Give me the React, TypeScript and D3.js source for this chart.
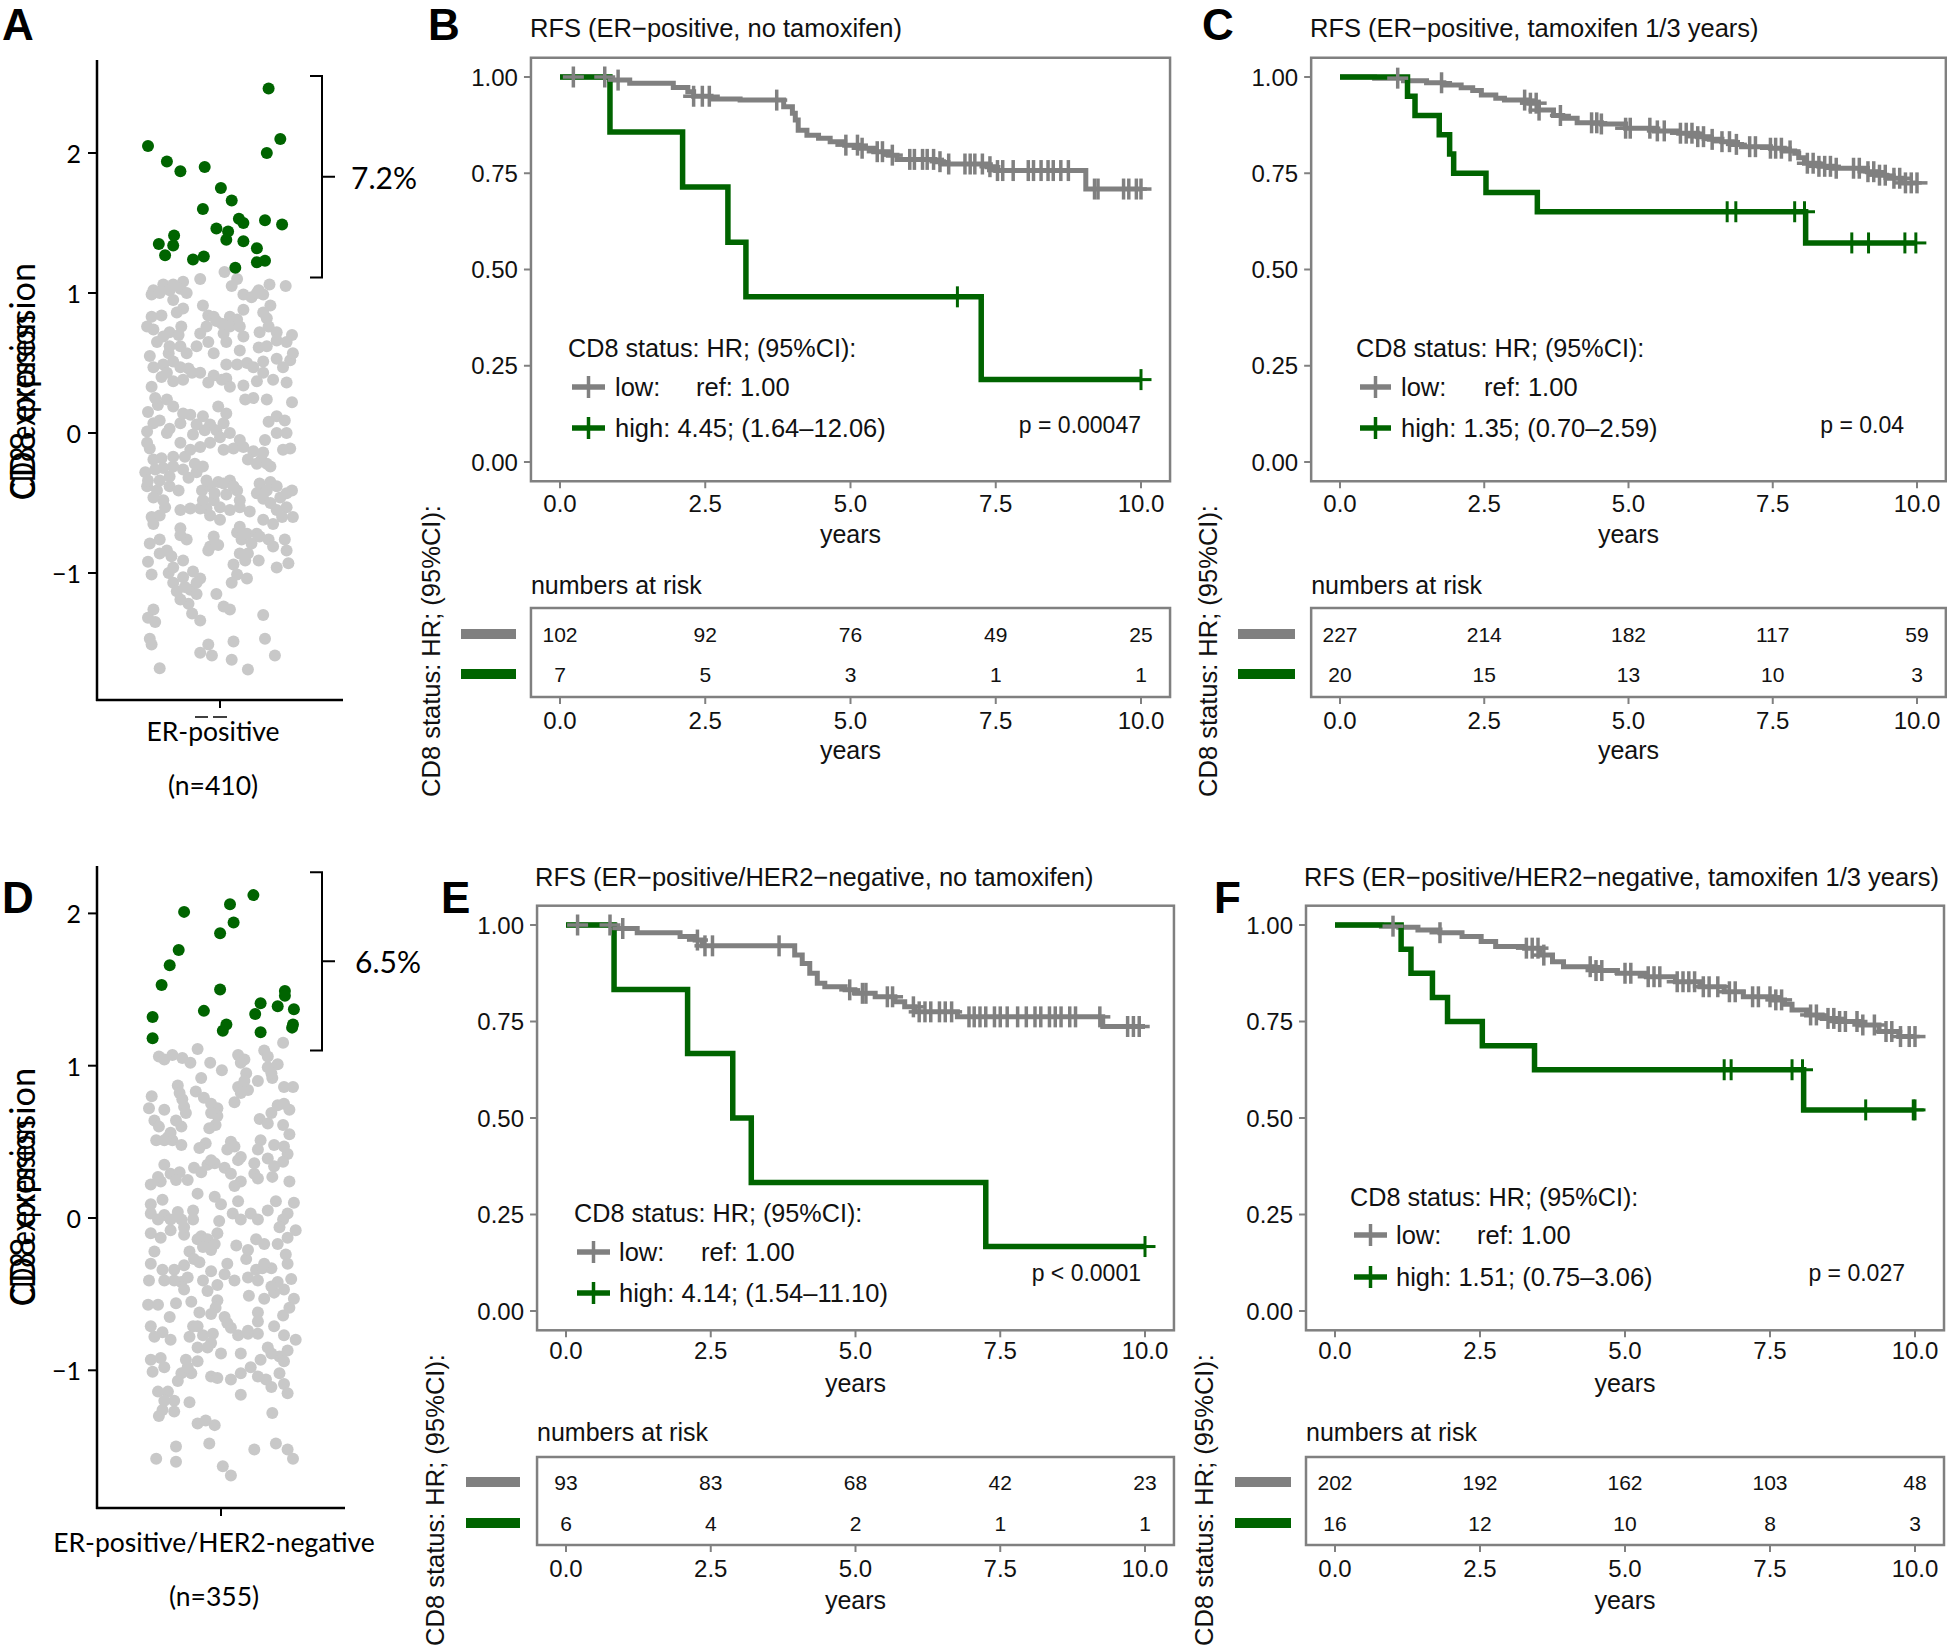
import React from "react";
import * as d3 from "d3";

type P = [number, number];

const GREEN = "#006400";
const GREY = "#808080";
const DOT_GREY = "#c8c8c8";
const FRAME = "#808080";
const SANS = "'Liberation Sans', Arial, Helvetica, sans-serif";
const HUM = "Lato, 'Open Sans', sans-serif";

// ---------------- Panel A / D : CD8 expression dots  [jitter, value] ----------------
const aHighDots: P[] = [
  [0.54, 2.46], [0.67, 2.1], [0.52, 2.0], [-0.8, 2.05], [-0.59, 1.94], [-0.44, 1.87], [-0.17, 1.9],
  [0.01, 1.75], [0.13, 1.66], [-0.19, 1.6], [0.21, 1.53], [0.26, 1.5], [0.5, 1.52], [0.69, 1.49],
  [-0.04, 1.46], [0.09, 1.44], [0.07, 1.38], [0.26, 1.37], [0.41, 1.32], [-0.51, 1.41], [-0.52, 1.34],
  [-0.68, 1.35], [-0.61, 1.27], [-0.3, 1.24], [-0.18, 1.26], [0.41, 1.22], [0.5, 1.23], [0.17, 1.18],
];
const aLowDots: P[] = [
  [0.05, 1.15], [0.19, 1.1], [-0.22, 1.1], [-0.41, 1.08], [-0.52, 1.06], [-0.63, 1.06], [-0.74, 1.02], [-0.76, 0.99],
  [0.13, 1.05], [0.43, 1.02], [0.55, 1.06], [0.73, 1.05], [0.26, 0.99], [0.35, 0.97], [0.48, 0.99], [-0.56, 1.02], [-0.44, 1.03],
  [-0.52, 0.95], [-0.41, 0.89], [-0.19, 0.91], [0.56, 0.91], [0.26, 0.88], [-0.13, 0.84], [-0.07, 0.83], [0.11, 0.83],
  [0.19, 0.81], [0.52, 0.82], [-0.76, 0.83], [-0.65, 0.84], [-0.81, 0.76], [0.02, 0.78], [-0.04, 0.8], [0.54, 0.76],
  [-0.74, 0.74], [-0.56, 0.72], [-0.43, 0.76], [-0.46, 0.7], [-0.63, 0.69], [-0.7, 0.65], [-0.22, 0.71], [-0.13, 0.65],
  [0.04, 0.71], [0.07, 0.65], [0.26, 0.69], [0.44, 0.72], [0.63, 0.72], [0.8, 0.7], [0.74, 0.65], [0.63, 0.66],
  [-0.78, 0.55], [-0.57, 0.57], [-0.44, 0.62], [-0.37, 0.57], [-0.52, 0.51], [-0.35, 0.46], [-0.63, 0.49], [-0.31, 0.43],
  [-0.22, 0.43], [0.07, 0.49], [0.19, 0.49], [0.3, 0.5], [0.43, 0.61], [0.48, 0.51], [0.63, 0.53], [0.78, 0.52], [0.81, 0.57],
  [-0.07, 0.41], [0.02, 0.38], [0.07, 0.39], [-0.65, 0.4], [-0.52, 0.37], [-0.76, 0.33], [-0.13, 0.36], [0.26, 0.34],
  [0.41, 0.37], [0.59, 0.38], [0.74, 0.36],
  [-0.67, 1.0], [-0.37, 1.0], [-0.48, 0.86], [0.41, 1.0], [-0.15, 0.76], [0.11, 0.76], [0.22, 0.76], [0.48, 0.86],
  [-0.56, 0.62], [-0.26, 0.62], [-0.07, 0.57], [0.22, 0.59], [0.52, 0.62], [0.7, 0.47], [-0.44, 0.47], [0.37, 0.47],
  [-0.74, 0.47], [-0.59, 0.43], [-0.41, 0.38], [0.48, 0.43], [0.11, 0.33],
  [0.37, 0.25], [0.52, 0.24], [0.8, 0.22], [-0.8, 0.15], [-0.69, 0.2], [-0.59, 0.24], [-0.67, 0.09], [-0.56, 0.03],
  [-0.44, 0.07], [-0.81, 0.01], [-0.33, 0.13], [-0.19, 0.12], [-0.11, 0.06], [-0.02, 0.19], [-0.04, 0.02], [0.07, 0.14],
  [0.11, 0.0], [0.28, 0.24], [0.54, 0.08], [0.63, 0.12], [0.72, 0.09], [0.74, 0.0], [0.63, 0.0], [0.5, -0.05],
  [0.78, -0.11], [0.7, -0.12], [0.26, -0.1], [0.37, -0.13], [0.46, -0.19], [0.56, -0.24], [0.41, -0.22], [0.15, -0.11],
  [0.04, -0.12], [-0.11, -0.07], [-0.22, -0.1], [-0.3, -0.01], [-0.44, -0.07], [-0.52, -0.17], [-0.39, -0.17], [-0.65, -0.18],
  [-0.78, -0.11], [-0.83, -0.28], [-0.74, -0.19], [-0.63, -0.25], [-0.41, -0.26], [-0.26, -0.28], [-0.35, -0.32],
  [-0.81, -0.38], [-0.7, -0.41], [-0.56, -0.38], [-0.46, -0.41], [-0.63, -0.48], [-0.61, -0.53], [-0.2, -0.41],
  [-0.11, -0.38], [-0.02, -0.35], [0.11, -0.34], [0.19, -0.41], [0.07, -0.44], [-0.07, -0.48], [-0.15, -0.54],
  [-0.22, -0.54], [-0.33, -0.54], [-0.44, -0.55], [0.44, -0.36], [0.56, -0.35], [0.41, -0.43], [0.48, -0.47],
  [0.63, -0.38], [0.8, -0.41], [0.74, -0.53], [0.63, -0.55], [0.81, -0.6], [0.59, -0.65], [0.48, -0.62], [0.33, -0.56],
  [0.22, -0.53], [0.11, -0.55], [0.0, -0.62], [-0.11, -0.59], [-0.76, -0.6], [-0.67, -0.59], [-0.74, -0.65],
  [-0.44, -0.68], [-0.37, -0.76], [-0.44, -0.73], [-0.07, -0.74], [-0.11, -0.81], [-0.13, -0.84], [-0.02, -0.8],
  [0.19, -0.71], [0.24, -0.76], [0.3, -0.72], [0.41, -0.72], [0.54, -0.76], [0.72, -0.76], [0.74, -0.84],
  [-0.78, -0.79], [-0.67, -0.76], [-0.59, -0.84], [-0.54, -0.88], [-0.41, -0.91], [-0.8, -0.92], [-0.76, -1.01],
  [-0.57, -1.0], [-0.52, -1.07], [-0.41, -1.03], [-0.3, -0.99], [-0.22, -1.04], [-0.33, -1.12], [-0.26, -1.15],
  [-0.48, -1.13], [0.22, -0.86], [0.31, -0.86], [0.43, -0.91], [0.15, -0.94], [0.19, -1.01], [0.3, -1.04],
  [0.13, -1.07], [0.63, -0.96], [0.76, -0.93], [-0.04, -1.15], [0.04, -1.24], [0.11, -1.26], [-0.35, -1.22],
  [-0.31, -1.29], [-0.22, -1.34], [-0.74, -1.26], [-0.8, -1.32], [-0.72, -1.35], [0.48, -1.3], [-0.78, -1.47],
  [-0.76, -1.51], [-0.22, -1.57], [-0.13, -1.51], [-0.09, -1.59], [0.15, -1.49], [0.13, -1.62], [0.31, -1.69],
  [0.5, -1.47], [0.61, -1.59], [-0.67, -1.68],
  [-0.72, 0.25], [-0.52, 0.19], [-0.41, 0.14], [-0.74, 0.07], [-0.59, 0.0], [-0.26, 0.06], [-0.17, 0.02], [0.04, 0.07],
  [0.0, -0.03], [-0.15, -0.34], [0.04, -0.36], [0.15, -0.38], [-0.06, -0.43], [-0.19, -0.48], [0.0, -0.53], [0.22, -0.48],
  [0.52, -0.41], [0.67, -0.46], [0.56, -0.5], [0.74, -0.43], [0.69, -0.6], [-0.81, -0.07], [-0.72, -0.26], [-0.8, -0.34],
  [-0.67, -0.34], [-0.74, -0.46], [-0.56, -0.31], [-0.33, -0.12], [-0.28, -0.22], [-0.52, -0.24], [-0.19, -0.24],
  [0.22, -0.05], [0.31, -0.19], [0.48, -0.14], [0.52, -0.22], [0.22, -0.67], [0.35, -0.79], [0.44, -0.74], [0.59, -0.81],
  [0.28, -0.91], [-0.52, -0.96], [-0.67, -0.86], [-0.26, -1.07], [-0.39, -1.1], [-0.44, -1.19],
];
const dHighDots: P[] = [
  [0.36, 2.12], [0.1, 2.06], [0.14, 1.94], [-0.01, 1.87], [-0.41, 2.01], [-0.47, 1.76], [-0.57, 1.66], [-0.66, 1.53],
  [-0.76, 1.32], [-0.76, 1.18], [-0.01, 1.5], [-0.19, 1.36], [0.06, 1.27], [0.02, 1.23], [0.44, 1.41], [0.38, 1.34],
  [0.44, 1.22], [0.63, 1.39], [0.71, 1.49], [0.71, 1.46], [0.81, 1.37], [0.8, 1.27], [0.79, 1.25],
];
const dLowDots: P[] = [
  [-0.26, 1.11], [-0.69, 1.06], [-0.54, 1.07], [-0.43, 1.05], [-0.34, 1.02], [-0.12, 1.02], [0.01, 0.97], [0.19, 1.07],
  [0.26, 1.04], [0.48, 1.1], [0.52, 1.06], [0.69, 1.15], [0.28, 0.95], [0.41, 0.9], [0.52, 0.99], [0.63, 1.01],
  [0.57, 0.92], [-0.22, 0.92], [-0.48, 0.87], [-0.46, 0.82], [-0.43, 0.78], [-0.28, 0.83], [-0.19, 0.79], [-0.11, 0.75],
  [-0.04, 0.72], [-0.04, 0.67], [-0.06, 0.61], [-0.13, 0.59], [-0.41, 0.73], [-0.39, 0.69], [-0.77, 0.8], [-0.8, 0.72],
  [-0.63, 0.71], [-0.74, 0.64], [-0.5, 0.64], [-0.69, 0.6], [0.19, 0.86], [0.3, 0.84], [0.26, 0.9], [0.15, 0.76],
  [0.43, 0.65], [0.52, 0.62], [0.56, 0.69], [0.63, 0.74], [0.7, 0.75], [0.76, 0.71], [0.7, 0.86], [0.8, 0.86],
  [0.69, 0.61], [0.76, 0.55], [0.59, 0.48], [0.44, 0.51], [0.41, 0.45], [0.52, 0.39], [0.74, 0.42], [0.69, 0.37],
  [0.11, 0.5], [0.15, 0.47], [0.22, 0.4], [0.04, 0.33], [-0.07, 0.36], [-0.15, 0.35], [-0.3, 0.33], [-0.22, 0.3],
  [-0.17, 0.49], [-0.24, 0.46], [-0.59, 0.53], [-0.54, 0.51], [-0.72, 0.51], [-0.44, 0.48], [-0.63, 0.35], [-0.56, 0.29],
  [-0.46, 0.3], [-0.37, 0.25], [-0.78, 0.22], [-0.67, 0.24], [0.11, 0.29], [0.22, 0.24], [0.37, 0.29], [0.41, 0.26],
  [0.57, 0.27], [0.76, 0.24], [0.37, 0.36], [0.15, 0.21],
  [-0.63, 1.04], [0.22, 1.02], [0.56, 0.95], [-0.11, 0.69], [0.22, 0.82], [-0.44, 0.6], [-0.56, 0.56], [-0.63, 0.51],
  [0.07, 0.45], [0.19, 0.38], [-0.11, 0.38], [0.59, 0.34], [0.7, 0.47], [-0.5, 0.25], [-0.7, 0.27],
  [-0.78, 0.09], [-0.65, 0.12], [-0.78, 0.03], [-0.63, 0.02], [-0.48, 0.04], [-0.44, -0.01], [-0.31, 0.05], [-0.26, 0.16],
  [-0.31, -0.01], [-0.07, 0.14], [0.0, 0.09], [-0.02, -0.02], [0.13, 0.03], [0.19, 0.11], [0.33, 0.03], [0.41, -0.01],
  [0.52, 0.05], [0.61, 0.11], [0.81, 0.1], [0.69, -0.01], [0.65, -0.06], [0.74, -0.13], [0.83, -0.08], [-0.78, -0.1],
  [-0.67, -0.13], [-0.56, -0.08], [-0.41, -0.11], [-0.22, -0.12], [-0.15, -0.14], [-0.11, -0.21], [-0.04, -0.1],
  [0.17, -0.18], [0.28, -0.27], [0.39, -0.14], [0.48, -0.17], [-0.74, -0.22], [-0.78, -0.3], [-0.8, -0.41], [-0.65, -0.34],
  [-0.52, -0.34], [-0.41, -0.31], [-0.35, -0.22], [-0.3, -0.27], [-0.24, -0.29], [-0.2, -0.41], [-0.11, -0.35],
  [-0.04, -0.44], [0.07, -0.3], [0.15, -0.41], [0.3, -0.39], [0.39, -0.34], [0.46, -0.33], [0.56, -0.33], [0.63, -0.42],
  [0.78, -0.4], [0.74, -0.3], [0.72, -0.24], [-0.44, -0.42], [-0.41, -0.47], [-0.15, -0.48], [-0.04, -0.54],
  [0.31, -0.51], [0.48, -0.53], [0.59, -0.49], [0.81, -0.53], [0.76, -0.59], [0.69, -0.64], [0.41, -0.62], [0.41, -0.68],
  [0.59, -0.71], [0.7, -0.77], [0.83, -0.8], [-0.81, -0.57], [-0.7, -0.57], [-0.5, -0.56], [-0.33, -0.55], [-0.24, -0.62],
  [-0.06, -0.59], [0.04, -0.65], [0.11, -0.72], [0.19, -0.77], [0.3, -0.76], [0.41, -0.76], [-0.57, -0.65], [-0.65, -0.75],
  [-0.74, -0.78], [-0.31, -0.71], [-0.35, -0.78], [-0.2, -0.77], [-0.09, -0.76], [-0.26, -0.85], [-0.11, -0.82],
  [0.0, -0.89], [0.22, -0.89], [0.44, -0.93], [0.52, -0.85], [0.65, -0.91], [0.7, -0.94], [-0.78, -0.93], [-0.67, -0.92],
  [-0.76, -1.01], [-0.39, -0.93], [-0.26, -0.94], [-0.44, -1.02], [-0.33, -1.02], [-0.48, -1.07], [-0.11, -1.04],
  [-0.04, -1.05], [0.22, -1.02], [0.41, -1.04], [0.5, -1.06], [0.65, -1.02], [0.7, -1.09], [-0.7, -1.14], [-0.59, -1.14],
  [0.22, -1.16], [-0.35, -1.21], [-0.65, -1.26], [-0.69, -1.3], [-0.52, -1.27], [-0.26, -1.35], [-0.17, -1.33],
  [-0.07, -1.36], [0.57, -1.28], [-0.5, -1.5], [-0.72, -1.58], [-0.5, -1.6], [-0.13, -1.48], [0.37, -1.52], [0.61, -1.48],
  [0.74, -1.52], [0.8, -1.58], [0.02, -1.63], [0.11, -1.69],
  [-0.7, -0.01], [-0.56, -0.01], [-0.41, -0.06], [-0.26, -0.14], [-0.2, -0.19], [-0.07, -0.17], [-0.37, -0.39], [-0.52, -0.41],
  [-0.63, -0.41], [0.04, -0.37], [0.41, -0.41], [0.56, -0.45], [0.7, -0.47], [0.48, -0.3], [0.3, -0.21], [0.63, -0.17],
  [0.74, 0.03], [0.22, -0.01], [-0.11, -0.63], [0.07, -0.69], [0.3, -0.74], [-0.26, -0.71], [-0.15, -0.85], [0.56, -0.89],
  [0.74, -0.87], [-0.78, -0.71], [-0.56, -0.8], [-0.37, -0.98], [-0.63, -0.98], [0.33, -0.98], [0.11, -1.06], [0.56, -1.11],
  [-0.52, -1.2], [-0.63, -1.2], [0.74, -1.15],
];
const aBracket: P = [1.11, 2.55];
const dBracket: P = [1.1, 2.27];
const exprTicks = [-1, 0, 1, 2];

// ---------------- KM curves: steps [time, survival after drop], censor times ----------------
const timeTicks = [0, 2.5, 5, 7.5, 10];
const survTicks = [0, 0.25, 0.5, 0.75, 1];

const bLowSteps: P[] = [
  [0.85, 0.992], [1.2, 0.984], [1.95, 0.973], [2.2, 0.962], [2.3, 0.95], [2.6, 0.943], [3.1, 0.94], [3.85, 0.923],
  [4.0, 0.906], [4.05, 0.888], [4.1, 0.862], [4.25, 0.849], [4.45, 0.841], [4.65, 0.832], [4.9, 0.823], [5.15, 0.815],
  [5.4, 0.806], [5.65, 0.797], [5.8, 0.786], [6.45, 0.78], [6.6, 0.774], [7.35, 0.767], [7.5, 0.757], [9.05, 0.709],
];
const bLowCensor = [0.23, 0.77, 1.0, 2.3, 2.45, 2.57, 3.73, 4.92, 5.12, 5.2, 5.46, 5.55, 5.72, 6.02, 6.1, 6.24, 6.32,
  6.43, 6.54, 6.69, 6.97, 7.06, 7.14, 7.27, 7.4, 7.53, 7.62, 7.8, 8.06, 8.15, 8.28, 8.4, 8.49, 8.62, 8.75, 9.2, 9.26,
  9.7, 9.79, 9.92, 10.0];
const bHighSteps: P[] = [[0.86, 0.857], [2.11, 0.714], [2.89, 0.571], [3.2, 0.429], [7.25, 0.214]];
const bHighCensor = [6.84, 10.0];
const bRiskLow = [102, 92, 76, 49, 25];
const bRiskHigh = [7, 5, 3, 1, 1];

const cLowSteps: P[] = [
  [0.6, 0.997], [1.1, 0.99], [1.5, 0.985], [1.8, 0.979], [2.1, 0.972], [2.3, 0.965], [2.45, 0.953], [2.7, 0.945],
  [2.85, 0.94], [3.27, 0.932], [3.44, 0.914], [3.7, 0.9], [3.86, 0.893], [4.11, 0.881], [4.53, 0.878], [4.95, 0.867],
  [5.45, 0.86], [5.87, 0.854], [6.2, 0.845], [6.4, 0.838], [6.62, 0.832], [6.8, 0.825], [6.96, 0.819], [7.46, 0.815],
  [7.7, 0.808], [7.88, 0.802], [7.95, 0.79], [8.05, 0.776], [8.3, 0.768], [8.55, 0.763], [9.14, 0.754], [9.3, 0.745],
  [9.47, 0.737], [9.73, 0.725],
];
const cLowCensor = [1.0, 1.76, 3.2, 3.3, 3.4, 3.45, 3.82, 4.36, 4.45, 4.53, 4.95, 5.03, 5.37, 5.5, 5.62, 5.9, 6.0, 6.1,
  6.2, 6.3, 6.45, 6.62, 6.75, 6.87, 7.1, 7.2, 7.46, 7.55, 7.65, 7.8, 8.1, 8.2, 8.3, 8.4, 8.5, 8.6, 8.9, 9.0, 9.15, 9.25,
  9.35, 9.45, 9.6, 9.7, 9.8, 9.9, 10.0];
const cHighSteps: P[] = [[1.17, 0.95], [1.3, 0.9], [1.72, 0.85], [1.9, 0.8], [1.97, 0.75], [2.53, 0.7], [3.42, 0.65], [8.07, 0.569]];
const cHighCensor = [6.71, 6.86, 7.88, 8.05, 8.87, 9.16, 9.79, 9.98];
const cRiskLow = [227, 214, 182, 117, 59];
const cRiskHigh = [20, 15, 13, 10, 3];

const eLowSteps: P[] = [
  [0.85, 0.991], [1.23, 0.98], [1.97, 0.97], [2.23, 0.961], [2.35, 0.946], [3.95, 0.922], [4.08, 0.9], [4.21, 0.875],
  [4.34, 0.849], [4.47, 0.84], [4.82, 0.832], [4.99, 0.823], [5.34, 0.814], [5.68, 0.801], [5.85, 0.788], [6.03, 0.775],
  [6.76, 0.762], [9.27, 0.737],
];
const eLowCensor = [0.2, 0.76, 0.98, 2.27, 2.4, 2.53, 3.68, 4.9, 5.12, 5.18, 5.55, 5.64, 6.0, 6.1, 6.2, 6.3, 6.45, 6.55,
  6.66, 6.96, 7.05, 7.15, 7.25, 7.4, 7.5, 7.62, 7.8, 7.95, 8.1, 8.2, 8.35, 8.45, 8.55, 8.7, 8.8, 9.22, 9.7, 9.8, 9.9];
const eHighSteps: P[] = [[0.83, 0.833], [2.1, 0.667], [2.88, 0.5], [3.2, 0.333], [7.25, 0.167]];
const eHighCensor = [10.0];
const eRiskLow = [93, 83, 68, 42, 23];
const eRiskHigh = [6, 4, 2, 1, 1];

const fLowSteps: P[] = [
  [0.8, 0.997], [1.1, 0.994], [1.43, 0.987], [1.81, 0.98], [2.19, 0.97], [2.52, 0.957], [2.77, 0.944], [3.27, 0.94],
  [3.53, 0.922], [3.75, 0.905], [3.94, 0.892], [4.45, 0.882], [4.87, 0.875], [5.37, 0.866], [5.87, 0.853], [6.29, 0.84],
  [6.71, 0.827], [7.04, 0.814], [7.54, 0.806], [7.75, 0.795], [7.88, 0.78], [8.13, 0.767], [8.4, 0.758], [8.63, 0.75],
  [9.05, 0.741], [9.38, 0.724], [9.72, 0.711],
];
const fLowCensor = [1.0, 1.81, 3.3, 3.4, 3.5, 3.6, 4.4, 4.5, 4.6, 5.0, 5.1, 5.4, 5.5, 5.6, 5.9, 6.0, 6.1, 6.2, 6.35,
  6.45, 6.6, 6.8, 6.9, 7.2, 7.3, 7.5, 7.6, 7.7, 8.2, 8.3, 8.5, 8.6, 8.7, 8.8, 9.0, 9.1, 9.3, 9.5, 9.6, 9.75, 9.9, 10.0];
const fHighSteps: P[] = [[1.14, 0.9375], [1.31, 0.875], [1.68, 0.8125], [1.94, 0.75], [2.54, 0.6875], [3.44, 0.625], [8.08, 0.521]];
const fHighCensor = [6.71, 6.83, 7.88, 8.06, 9.15, 9.97, 10.0];
const fRiskLow = [202, 192, 162, 103, 48];
const fRiskHigh = [16, 12, 10, 8, 3];

const curveEnd = 10.0;

// ---------------- helpers ----------------
function survAt(steps: P[], t: number) {
  let s = 1;
  for (const [ti, si] of steps) if (ti <= t) s = si;
  return s;
}

function Scatter(props: {
  low: P[]; high: P[]; bracket: P; pct: string; group: string; n: string; letter: string;
  letterY: number; axisTop: number; axisBottom: number; axisRight: number; cx: number;
  y2: number; ym1: number; groupY: number; nY: number; labelBottom: number; labelLen: number; pctX: number;
  marks: boolean;
}) {
  const p = props;
  const y = d3.scaleLinear().domain([-1, 2]).range([p.ym1, p.y2]);
  const jx = d3.scaleLinear().domain([-1, 1]).range([p.cx - 90, p.cx + 90]);
  const axisX = 97;
  const bx = 322;
  const by0 = y(p.bracket[0]);
  const by1 = y(p.bracket[1]);
  const bm = (by0 + by1) / 2;
  return (
    <g>
      <text x={2} y={p.letterY} fontFamily={SANS} fontWeight="bold" fontSize={44}>{p.letter}</text>
      <text transform={`translate(35,${p.labelBottom}) rotate(-90)`} fontFamily={HUM} fontSize={34}
        textLength={p.labelLen} lengthAdjust="spacingAndGlyphs">CD8 expression</text>
      <text transform={`translate(35,${p.labelBottom}) rotate(-90)`} fontFamily={HUM} fontSize={34}
        textLength={p.labelLen - 52} lengthAdjust="spacingAndGlyphs">CD8 expression</text>
      {p.low.map((d, i) => (
        <circle key={"l" + i} cx={jx(d[0])} cy={y(d[1])} r={6} fill={DOT_GREY} />
      ))}
      {p.high.map((d, i) => (
        <circle key={"h" + i} cx={jx(d[0])} cy={y(d[1])} r={6} fill={GREEN} />
      ))}
      <line x1={axisX} x2={axisX} y1={p.axisTop} y2={p.axisBottom + 1} stroke="#000" strokeWidth={2.5} />
      <line x1={axisX - 1} x2={p.axisRight} y1={p.axisBottom} y2={p.axisBottom} stroke="#000" strokeWidth={2.5} />
      {exprTicks.map((t) => (
        <g key={t}>
          <line x1={axisX - 9} x2={axisX} y1={y(t)} y2={y(t)} stroke="#000" strokeWidth={2} />
          <text x={axisX - 16} y={y(t)} textAnchor="end" dominantBaseline="central" fontFamily={HUM} fontSize={25}>
            {d3.format("d")(t)}
          </text>
        </g>
      ))}
      <line x1={p.cx} x2={p.cx} y1={p.axisBottom} y2={p.axisBottom + 8} stroke="#000" strokeWidth={2} />
      {p.marks && (
        <g stroke="#000" strokeWidth={1.5}>
          <line x1={p.cx - 25} x2={p.cx - 12} y1={p.axisBottom + 17} y2={p.axisBottom + 17} />
          <line x1={p.cx - 7} x2={p.cx + 7} y1={p.axisBottom + 17} y2={p.axisBottom + 17} />
        </g>
      )}
      <text x={p.cx - 7} y={p.groupY} textAnchor="middle" dominantBaseline="central" fontFamily={HUM} fontSize={26.5}>{p.group}</text>
      <text x={p.cx - 7} y={p.nY} textAnchor="middle" dominantBaseline="central" fontFamily={HUM} fontSize={26.5}>{p.n}</text>
      <path d={`M${bx - 12},${by1} H${bx} V${by0} H${bx - 12} M${bx},${bm} H${bx + 13}`} fill="none" stroke="#000" strokeWidth={2} />
      <text x={p.pctX} y={bm} dominantBaseline="central" fontFamily={HUM} fontSize={30}>{p.pct}</text>
    </g>
  );
}

type KMConf = {
  letter: string; letterX: number; letterY: number; title: string; titleX: number; titleY: number;
  x0: number; x10: number; y1: number; y0: number;
  lowSteps: P[]; lowCensor: number[]; highSteps: P[]; highCensor: number[];
  riskLow: number[]; riskHigh: number[]; hr: string; pval: string;
  legTitleX: number; symX: [number, number]; legTextX: number; refX: number; legY: [number, number, number];
  pX: number; pY: number; tickLabelY: number; yearsY: number;
  riskLabelY: number; riskTop: number; riskBottom: number; riskRows: [number, number];
  riskTickLabelY: number; riskYearsY: number; barX: [number, number]; rotX: number; rotY: number;
};

function Censor({ x, y, color, w }: { x: number; y: number; color: string; w: number }) {
  return (
    <g stroke={color} strokeWidth={w}>
      <line x1={x} x2={x} y1={y - 10.5} y2={y + 10.5} />
      <line x1={x - 10.5} x2={x + 10.5} y1={y} y2={y} />
    </g>
  );
}

function KM({ c }: { c: KMConf }) {
  const xs = d3.scaleLinear().domain([0, 10]).range([c.x0, c.x10]);
  const ys = d3.scaleLinear().domain([0, 1]).range([c.y0, c.y1]);
  const left = xs(-0.5), right = xs(10.5), top = ys(1.05), bottom = ys(-0.05);
  const line = d3.line<P>().x((d) => xs(d[0])).y((d) => ys(d[1])).curve(d3.curveStepAfter);
  const pts = (steps: P[]): P[] => [[0, 1], ...steps, [curveEnd, steps[steps.length - 1][1]]];
  const fy = d3.format(".2f");
  const fx = d3.format(".1f");
  const txt = { fontFamily: SANS, fill: "#111" } as const;
  return (
    <g>
      <text x={c.letterX} y={c.letterY} fontFamily={SANS} fontWeight="bold" fontSize={44}>{c.letter}</text>
      <text x={c.titleX} y={c.titleY} dominantBaseline="central" fontSize={25.5} {...txt}>{c.title}</text>
      <rect x={left} y={top} width={right - left} height={bottom - top} fill="#fff" stroke={FRAME} strokeWidth={2.5} />
      {survTicks.map((s) => (
        <g key={s}>
          <line x1={left - 7} x2={left} y1={ys(s)} y2={ys(s)} stroke={FRAME} strokeWidth={2} />
          <text x={left - 13} y={ys(s)} textAnchor="end" dominantBaseline="central" fontSize={24} {...txt}>{fy(s)}</text>
        </g>
      ))}
      {timeTicks.map((t) => (
        <g key={t}>
          <line x1={xs(t)} x2={xs(t)} y1={bottom} y2={bottom + 7} stroke={FRAME} strokeWidth={2} />
          <text x={xs(t)} y={c.tickLabelY} textAnchor="middle" dominantBaseline="central" fontSize={24} {...txt}>{fx(t)}</text>
        </g>
      ))}
      <text x={xs(5)} y={c.yearsY} textAnchor="middle" dominantBaseline="central" fontSize={25} {...txt}>years</text>
      <path d={line(pts(c.lowSteps)) || ""} fill="none" stroke={GREY} strokeWidth={5} />
      <path d={line(pts(c.highSteps)) || ""} fill="none" stroke={GREEN} strokeWidth={5.5} />
      {c.lowCensor.map((t, i) => (
        <Censor key={"lc" + i} x={xs(t)} y={ys(survAt(c.lowSteps, t))} color={GREY} w={3.5} />
      ))}
      {c.highCensor.map((t, i) => (
        <Censor key={"hc" + i} x={xs(t)} y={ys(survAt(c.highSteps, t))} color={GREEN} w={3} />
      ))}
      {/* legend */}
      <text x={c.legTitleX} y={c.legY[0]} dominantBaseline="central" fontSize={25.2} {...txt}>CD8 status: HR; (95%CI):</text>
      <g stroke={GREY}>
        <line x1={c.symX[0]} x2={c.symX[1]} y1={c.legY[1]} y2={c.legY[1]} strokeWidth={5.5} />
        <line x1={(c.symX[0] + c.symX[1]) / 2} x2={(c.symX[0] + c.symX[1]) / 2} y1={c.legY[1] - 11} y2={c.legY[1] + 11} strokeWidth={3.5} />
      </g>
      <g stroke={GREEN}>
        <line x1={c.symX[0]} x2={c.symX[1]} y1={c.legY[2]} y2={c.legY[2]} strokeWidth={5.5} />
        <line x1={(c.symX[0] + c.symX[1]) / 2} x2={(c.symX[0] + c.symX[1]) / 2} y1={c.legY[2] - 11} y2={c.legY[2] + 11} strokeWidth={3.5} />
      </g>
      <text x={c.legTextX} y={c.legY[1]} dominantBaseline="central" fontSize={25.5} {...txt}>low:</text>
      <text x={c.refX} y={c.legY[1]} dominantBaseline="central" fontSize={25.5} {...txt}>ref: 1.00</text>
      <text x={c.legTextX} y={c.legY[2]} dominantBaseline="central" fontSize={25.5} {...txt}>{c.hr}</text>
      <text x={c.pX} y={c.pY} textAnchor="end" dominantBaseline="central" fontSize={23} {...txt}>{c.pval}</text>
      {/* risk table */}
      <text x={left} y={c.riskLabelY} dominantBaseline="central" fontSize={25} {...txt}>numbers at risk</text>
      <rect x={left} y={c.riskTop} width={right - left} height={c.riskBottom - c.riskTop} fill="#fff" stroke={FRAME} strokeWidth={2.5} />
      {timeTicks.map((t, i) => (
        <g key={"r" + t}>
          <text x={xs(t)} y={c.riskRows[0]} textAnchor="middle" dominantBaseline="central" fontSize={21} {...txt}>{c.riskLow[i]}</text>
          <text x={xs(t)} y={c.riskRows[1]} textAnchor="middle" dominantBaseline="central" fontSize={21} {...txt}>{c.riskHigh[i]}</text>
          <line x1={xs(t)} x2={xs(t)} y1={c.riskBottom} y2={c.riskBottom + 7} stroke={FRAME} strokeWidth={2} />
          <text x={xs(t)} y={c.riskTickLabelY} textAnchor="middle" dominantBaseline="central" fontSize={24} {...txt}>{fx(t)}</text>
        </g>
      ))}
      <text x={xs(5)} y={c.riskYearsY} textAnchor="middle" dominantBaseline="central" fontSize={25} {...txt}>years</text>
      <rect x={c.barX[0]} y={c.riskRows[0] - 5} width={c.barX[1] - c.barX[0]} height={10} fill={GREY} />
      <rect x={c.barX[0]} y={c.riskRows[1] - 5} width={c.barX[1] - c.barX[0]} height={10} fill={GREEN} />
      <text transform={`translate(${c.rotX},${c.rotY}) rotate(-90)`} textAnchor="middle" dominantBaseline="central"
        fontSize={25.5} {...txt}>CD8 status: HR; (95%CI):</text>
    </g>
  );
}

const topRow = {
  y1: 77, y0: 462, titleY: 28, letterY: 40, tickLabelY: 503, yearsY: 534, legY: [348, 387, 428] as [number, number, number],
  pY: 425, riskLabelY: 585, riskTop: 608, riskBottom: 697, riskRows: [634, 674] as [number, number],
  riskTickLabelY: 720, riskYearsY: 750, rotY: 651,
};
const botRow = {
  y1: 925, y0: 1311, titleY: 877, letterY: 913, tickLabelY: 1350, yearsY: 1383,
  pY: 1273, riskLabelY: 1432, riskTop: 1457, riskBottom: 1545, riskRows: [1482, 1523] as [number, number],
  riskTickLabelY: 1568, riskYearsY: 1600, rotY: 1500,
};

const panelB: KMConf = {
  ...topRow, letter: "B", letterX: 428, title: "RFS (ER\u2212positive, no tamoxifen)", titleX: 530,
  x0: 560, x10: 1141, lowSteps: bLowSteps, lowCensor: bLowCensor, highSteps: bHighSteps, highCensor: bHighCensor,
  riskLow: bRiskLow, riskHigh: bRiskHigh, hr: "high: 4.45; (1.64\u201312.06)", pval: "p = 0.00047",
  legTitleX: 568, symX: [572, 605], legTextX: 615, refX: 696, pX: 1141, barX: [461, 516], rotX: 431,
};
const panelC: KMConf = {
  ...topRow, letter: "C", letterX: 1202, title: "RFS (ER\u2212positive, tamoxifen 1/3 years)", titleX: 1310,
  x0: 1340, x10: 1917, lowSteps: cLowSteps, lowCensor: cLowCensor, highSteps: cHighSteps, highCensor: cHighCensor,
  riskLow: cRiskLow, riskHigh: cRiskHigh, hr: "high: 1.35; (0.70\u20132.59)", pval: "p = 0.04",
  legTitleX: 1356, symX: [1360, 1391], legTextX: 1401, refX: 1484, pX: 1904, barX: [1238, 1295], rotX: 1208,
};
const panelE: KMConf = {
  ...botRow, letter: "E", letterX: 441, title: "RFS (ER\u2212positive/HER2\u2212negative, no tamoxifen)", titleX: 535,
  x0: 566, x10: 1145, lowSteps: eLowSteps, lowCensor: eLowCensor, highSteps: eHighSteps, highCensor: eHighCensor,
  riskLow: eRiskLow, riskHigh: eRiskHigh, hr: "high: 4.14; (1.54\u201311.10)", pval: "p < 0.0001",
  legTitleX: 574, symX: [577, 610], legTextX: 619, refX: 701, legY: [1213, 1252, 1293], pX: 1141, barX: [466, 520], rotX: 435,
};
const panelF: KMConf = {
  ...botRow, letter: "F", letterX: 1214, title: "RFS (ER\u2212positive/HER2\u2212negative, tamoxifen 1/3 years)", titleX: 1304,
  x0: 1335, x10: 1915, lowSteps: fLowSteps, lowCensor: fLowCensor, highSteps: fHighSteps, highCensor: fHighCensor,
  riskLow: fRiskLow, riskHigh: fRiskHigh, hr: "high: 1.51; (0.75\u20133.06)", pval: "p = 0.027",
  legTitleX: 1350, symX: [1354, 1387], legTextX: 1396, refX: 1477, legY: [1197, 1235, 1277], pX: 1905, barX: [1235, 1291], rotX: 1204,
};

export default function App() {
  return (
    <svg width={1947} height={1648} viewBox="0 0 1947 1648"
      style={{ position: "absolute", left: 0, top: 0, background: "#fff" }}>
      <rect x={0} y={0} width={1947} height={1648} fill="#fff" />
      <Scatter low={aLowDots} high={aHighDots} bracket={aBracket} pct="7.2%" group="ER-positive" n="(n=410)" letter="A"
        letterY={40} axisTop={60} axisBottom={700} axisRight={343} cx={220} y2={153} ym1={573}
        groupY={731} nY={785} labelBottom={500} labelLen={237} pctX={351} marks={true} />
      <Scatter low={dLowDots} high={dHighDots} bracket={dBracket} pct="6.5%" group="ER-positive/HER2-negative" n="(n=355)" letter="D"
        letterY={913} axisTop={866} axisBottom={1508} axisRight={345} cx={221} y2={913.4} ym1={1370.3}
        groupY={1542} nY={1596} labelBottom={1306} labelLen={238} pctX={355} marks={false} />
      <KM c={panelB} />
      <KM c={panelC} />
      <KM c={panelE} />
      <KM c={panelF} />
    </svg>
  );
}
